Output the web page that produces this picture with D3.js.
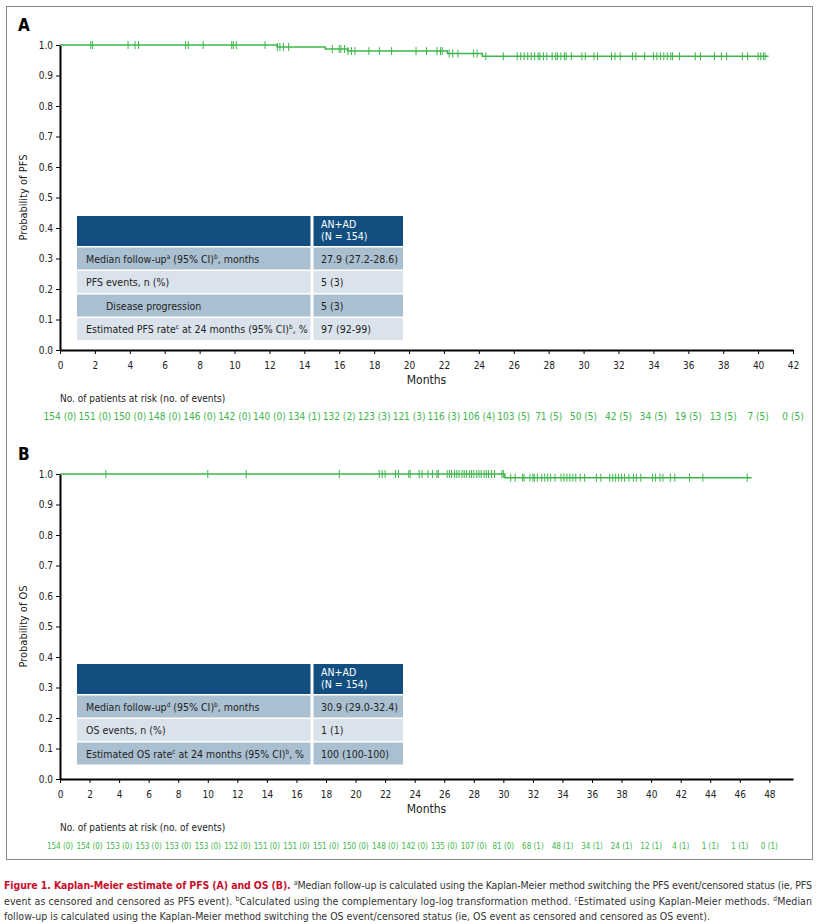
<!DOCTYPE html>
<html><head><meta charset="utf-8">
<script src="https://cdn.jsdelivr.net/npm/d3@7"></script>
<style>body{margin:0;background:#fff}text{font-family:"Liberation Sans Narrow","DejaVu Sans Condensed","Open Sans",sans-serif}</style>
</head><body><svg id="c" width="821" height="924"></svg>
<script>
const pfsEventTimes=[12.45,15.2,16.5,22.2,24.2];
const pfsEventSurv=[0.9935,0.987,0.980,0.972,0.963];
const pfsCensor=[1.76,1.87,3.9,4.3,4.5,7.2,7.35,8.2,9.84,9.93,10.1,11.75,12.45,12.6,12.8,13.1,15.6,16.0,16.1,16.3,16.5,16.7,16.9,17.7,18.3,19.0,20.4,21.0,21.6,21.8,21.9,22.3,22.5,22.8,23.7,23.9,24.4,25.4,26.2,26.4,26.6,26.8,27.0,27.2,27.4,27.5,27.7,27.9,28.2,28.4,28.5,28.7,28.9,29.0,29.3,29.9,30.1,30.6,30.8,31.6,31.8,32.1,32.8,33.0,33.5,34.0,34.2,34.4,34.6,34.8,35.0,35.1,35.5,36.4,36.7,37.5,37.9,38.2,39.1,39.4,40.0,40.15,40.3,40.4];
const pfsEnd=40.6;
const osEventTimes=[30.1];
const osEventSurv=[0.988];
const osCensor=[3.1,10.0,12.6,18.9,21.6,21.8,22.0,22.7,22.9,23.6,23.7,24.3,24.5,24.9,25.2,25.5,25.6,26.2,26.35,26.5,26.7,26.85,27.0,27.2,27.35,27.5,27.7,27.85,28.0,28.2,28.35,28.5,28.7,28.85,29.0,29.2,29.4,29.9,30.0,30.5,30.8,31.3,31.4,31.8,32.0,32.1,32.3,32.6,32.8,33.0,33.2,33.5,33.9,34.1,34.3,34.5,34.7,34.9,35.2,35.5,36.3,36.6,37.2,37.4,37.6,37.8,38.0,38.2,38.5,38.8,39.0,39.3,40.1,40.3,40.6,40.8,41.3,41.6,42.6,43.5,46.5];
const osEnd=46.8;
const pfsRisk=["154 (0)","151 (0)","150 (0)","148 (0)","146 (0)","142 (0)","140 (0)","134 (1)","132 (2)","123 (3)","121 (3)","116 (3)","106 (4)","103 (5)","71 (5)","50 (5)","42 (5)","34 (5)","19 (5)","13 (5)","7 (5)","0 (5)"];
const osRisk=["154 (0)","154 (0)","153 (0)","153 (0)","153 (0)","153 (0)","152 (0)","151 (0)","151 (0)","151 (0)","150 (0)","148 (0)","142 (0)","135 (0)","107 (0)","81 (0)","68 (1)","48 (1)","34 (1)","24 (1)","12 (1)","4 (1)","1 (1)","1 (1)","0 (1)"];
const pfsTable=[["","AN+AD|(N = 154)"],["Median follow-up<sup>a</sup> (95% CI)<sup>b</sup>, months","27.9 (27.2-28.6)"],["PFS events, n (%)","5 (3)"],["    Disease progression","5 (3)"],["Estimated PFS rate<sup>c</sup> at 24 months (95% CI)<sup>b</sup>, %","97 (92-99)"]];
const osTable=[["","AN+AD|(N = 154)"],["Median follow-up<sup>d</sup> (95% CI)<sup>b</sup>, months","30.9 (29.0-32.4)"],["OS events, n (%)","1 (1)"],["Estimated OS rate<sup>c</sup> at 24 months (95% CI)<sup>b</sup>, %","100 (100-100)"]];

const svg=d3.select("#c");
const G="#3db54a";
svg.append("rect").attr("x",6.5).attr("y",6.5).attr("width",806).attr("height",853).attr("fill","none").attr("stroke","#888").attr("stroke-width",1);

function panel(o){
  const x=d3.scaleLinear().domain([0,o.xmax]).range([60,793]);
  const y=d3.scaleLinear().domain([0,1]).range([o.y0,o.y1]);
  const g=svg.append("g");
  g.append("text").attr("x",18).attr("y",o.y1-14).attr("font-size",17).attr("font-weight","bold").attr("font-family","Liberation Sans, Arial").text(o.letter);
  const ya=g.append("g").attr("transform","translate(60,0)").call(d3.axisLeft(y).tickValues(d3.range(0,1.01,0.1)).tickFormat(d3.format(".1f")).tickSize(4).tickSizeOuter(0));
  const xa=g.append("g").attr("transform",`translate(0,${o.y0})`).call(d3.axisBottom(x).tickValues(d3.range(0,o.lastTick+1,2)).tickSize(4).tickSizeOuter(0));
  [ya,xa].forEach(a=>{a.select(".domain").attr("stroke","#000").attr("stroke-width",2);a.selectAll("line").attr("stroke","#000");a.selectAll("text").attr("font-size",10).attr("fill","#222");});
  xa.selectAll("text").attr("dy","1.2em");
  g.append("text").attr("transform",`translate(27,${(o.y0+o.y1)/2}) rotate(-90)`).attr("text-anchor","middle").attr("font-size",11).attr("fill","#222").text(o.ylab);
  g.append("text").attr("x",x(o.xmax/2)).attr("y",o.y0+34).attr("text-anchor","middle").attr("font-size",12).attr("fill","#222").text("Months");
  const pts=[[0,1]];let s=1;
  o.et.forEach((t,i)=>{pts.push([t,s]);s=o.es[i];pts.push([t,s]);});
  pts.push([o.end,s]);
  g.append("path").attr("d",d3.line().x(d=>x(d[0])).y(d=>y(d[1]))(pts)).attr("fill","none").attr("stroke",G).attr("stroke-width",1.5);
  const surv=t=>{let v=1;o.et.forEach((e,i)=>{if(e<=t)v=o.es[i];});return v;};
  g.selectAll(".c").data(o.cens).join("line").attr("x1",d=>x(d)).attr("x2",d=>x(d)).attr("y1",d=>y(surv(d))-4).attr("y2",d=>y(surv(d))+4).attr("stroke",G).attr("stroke-width",1);
  g.append("text").attr("x",60).attr("y",o.y0+52).attr("font-size",10).attr("fill","#222").text("No. of patients at risk (no. of events)");
  g.selectAll(".r").data(o.risk).join("text").attr("x",(d,i)=>x(i*2)).attr("y",o.y0+70).attr("text-anchor","middle").attr("font-size",o.rfs).attr("fill",G).text(d=>d);
  const tx=77,tw=326,tdiv=312;
  let ty=o.ty;
  const F="Lato, sans-serif", FS=10.5;
  o.table.forEach((r,i)=>{
    const h=i==0?30:22;
    const fill=i==0?"#124f80":(i%2==1?"#aac0d1":"#dae3ec");
    g.append("rect").attr("x",tx).attr("y",ty).attr("width",tdiv-tx-1.5).attr("height",h).attr("fill",fill);
    g.append("rect").attr("x",tdiv+1.5).attr("y",ty).attr("width",tx+tw-tdiv-1.5).attr("height",h).attr("fill",fill);
    if(i==0){
      r[1].split("|").forEach((l,k)=>g.append("text").attr("x",tdiv+9).attr("y",ty+12+k*12).attr("font-size",FS).attr("fill","#fff").attr("font-family",F).text(l));
    } else {
      const t=g.append("text").attr("x",tx+9+(r[0].startsWith("    ")?20:0)).attr("y",ty+h/2+4).attr("font-size",FS).attr("fill","#222").attr("font-family",F);
      r[0].trim().split(/(<sup>.*?<\/sup>)/).forEach(p=>{
        if(!p)return;
        if(p.startsWith("<sup>"))t.append("tspan").attr("font-size",6.5).attr("baseline-shift","super").text(p.replace(/<\/?sup>/g,""));
        else t.append("tspan").text(p);
      });
      g.append("text").attr("x",tdiv+9).attr("y",ty+h/2+4).attr("font-size",FS).attr("fill","#222").attr("font-family",F).text(r[1]);
    }
    ty+=h+1.5;
  });
}
panel({letter:"A",xmax:42,lastTick:42,y0:350,y1:45,ylab:"Probability of PFS",et:pfsEventTimes,es:pfsEventSurv,cens:pfsCensor,end:pfsEnd,risk:pfsRisk,rfs:10,table:pfsTable,ty:216});
panel({letter:"B",xmax:49.6,lastTick:48,y0:779,y1:474,ylab:"Probability of OS",et:osEventTimes,es:osEventSurv,cens:osCensor,end:osEnd,risk:osRisk,rfs:8,table:osTable,ty:664});

const cap=svg.append("g").attr("font-size",10.5).attr("fill","#333");
const lines=[
 [["Figure 1. Kaplan-Meier estimate of PFS (A) and OS (B). ","#c8102e",1],["a","",2],["Median follow-up is calculated using the Kaplan-Meier method switching the PFS event/censored status (ie, PFS","",0]],
 [["event as censored and censored as PFS event). ","",0],["b","",2],["Calculated using the complementary log-log transformation method. ","",0],["c","",2],["Estimated using Kaplan-Meier methods. ","",0],["d","",2],["Median","",0]],
 [["follow-up is calculated using the Kaplan-Meier method switching the OS event/censored status (ie, OS event as censored and censored as OS event).","",0]]];
lines.forEach((ln,i)=>{
  const t=cap.append("text").attr("x",4).attr("y",889+i*15.5).attr("textLength",i<2?808:null);
  ln.forEach(([s,c,f])=>{
    const sp=t.append("tspan").text(s);
    if(c)sp.attr("fill",c);
    if(f==1)sp.attr("font-weight","bold");
    if(f==2)sp.attr("font-size",7).attr("baseline-shift","super");
  });
});
</script></body></html>
